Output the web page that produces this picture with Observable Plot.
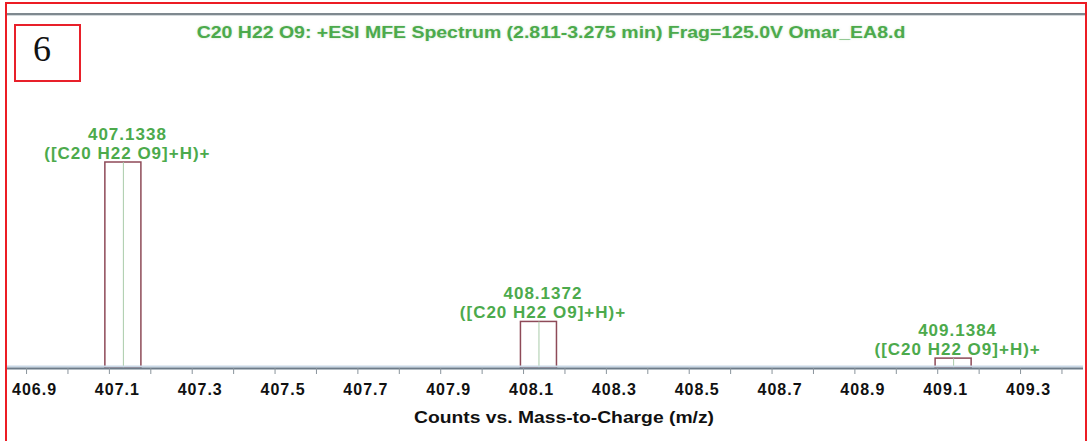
<!DOCTYPE html>
<html>
<head>
<meta charset="utf-8">
<script src="https://cdn.jsdelivr.net/npm/d3@7"></script>
<script src="https://cdn.jsdelivr.net/npm/@observablehq/plot@0.6"></script>
<style>
  html, body { margin: 0; padding: 0; background: #fff; overflow: hidden; }
  #wrap { position: relative; width: 1090px; height: 441px; font-family: "Liberation Sans", Arial, sans-serif; }
  #chart { position: absolute; left: 0; top: 0; }
  #chart svg text { letter-spacing: 1px; }
  .frame { position: absolute; left: 5px; top: 2px; width: 1082px; height: 470px; border: 2px solid #ec1c24; box-sizing: border-box; }
  .topline { position: absolute; left: 7px; top: 13px; width: 1078px; height: 2px; background: #7f898f; }
  .topline2 { position: absolute; left: 7px; top: 15px; width: 1078px; height: 1px; background: #d3d9dc; }
  .numbox { position: absolute; left: 14px; top: 24px; width: 67px; height: 58px; border: 2px solid #e8202a; box-sizing: border-box; background: #fff; }
  .num { position: absolute; left: 42px; top: 49px; transform: translate(-50%, -50%); font-family: "Liberation Serif", "Times New Roman", serif; font-size: 36px; color: #111; line-height: 1; }
  .fit { position: absolute; white-space: nowrap; font-weight: bold; line-height: 1; }
  #title { color: #4caa4c; font-size: 16px; text-shadow: 0 0 2px rgba(76,170,76,0.35); }
  #xlabel { color: #111; font-size: 16px; }
</style>
</head>
<body>
<div id="wrap">
  <div id="chart"></div>
  <div class="frame"></div>
  <div class="topline"></div>
  <div class="topline2"></div>
  <div class="numbox"></div>
  <div class="num">6</div>
  <div id="title" class="fit">C20 H22 O9: +ESI MFE Spectrum (2.811-3.275 min) Frag=125.0V Omar_EA8.d</div>
  <div id="xlabel" class="fit">Counts vs. Mass-to-Charge (m/z)</div>
</div>
<script>
// ---- data ----
const peakMz = [407.1338, 408.1372, 409.1384];
const peakCounts = [100, 22.6, 4.8];
const peakIon = ["([C20 H22 O9]+H)+", "([C20 H22 O9]+H)+", "([C20 H22 O9]+H)+"];
const majorTicks = [406.9, 407.1, 407.3, 407.5, 407.7, 407.9, 408.1, 408.3, 408.5, 408.7, 408.9, 409.1, 409.3];
const minorTicks = [407.0, 407.2, 407.4, 407.6, 407.8, 408.0, 408.2, 408.4, 408.6, 408.8, 409.0, 409.2, 409.4];
const xDomain = [406.854, 409.452];
const yDomain = [0, 100];

const peaks = peakMz.map((mz, i) => ({mz, counts: peakCounts[i], ion: peakIon[i]}));
const allTicks = majorTicks.concat(minorTicks);
const halfWidth = 0.0435;

const green = "#4caa4c";

const chart = Plot.plot({
  width: 1090,
  height: 441,
  marginLeft: 7,
  marginRight: 7,
  marginTop: 162,
  marginBottom: 73,
  style: {fontFamily: "'Liberation Sans', Arial, sans-serif", background: "transparent"},
  x: {domain: xDomain, label: null},
  y: {domain: yDomain, axis: null},
  marks: [
    Plot.rect(peaks, {
      x1: d => d.mz - halfWidth, x2: d => d.mz + halfWidth,
      y1: 0, y2: "counts",
      fill: "white", stroke: "#8e4a58", strokeWidth: 1.5
    }),
    Plot.ruleX(peaks, {x: "mz", y1: 0, y2: "counts", stroke: "#a9cba9", strokeWidth: 1}),
    Plot.ruleY([0], {stroke: "#c9d8e6", strokeWidth: 2, dy: -2}),
    Plot.ruleY([0], {stroke: "#6d7c89", strokeWidth: 2}),
    Plot.axisX({ticks: allTicks, tickSize: 6, tickFormat: () => "", stroke: "#8a949c", label: null}),
    Plot.axisX({ticks: majorTicks, tickSize: 0, tickPadding: 15, dx: 8,
      tickFormat: d => d.toFixed(1), fontSize: 16, fontWeight: "bold", fill: "#111", label: null}),
    Plot.text(peaks, {
      x: "mz", y: "counts",
      text: d => `${d.mz.toFixed(4)}\n${d.ion}`,
      lineAnchor: "bottom", lineHeight: 1.1,
      dy: -4, dx: 4,
      fill: green, fontSize: 17, fontWeight: "bold"
    })
  ]
});
document.getElementById("chart").appendChild(chart);

function fit(id, cx, cy, targetWidth) {
  const el = document.getElementById(id);
  const w = el.offsetWidth;
  el.style.left = cx + "px";
  el.style.top = cy + "px";
  el.style.transform = `translate(-50%, -50%) scaleX(${targetWidth / w})`;
}
fit("title", 551, 33, 708);
fit("xlabel", 564, 418, 300);
</script>
</body>
</html>
